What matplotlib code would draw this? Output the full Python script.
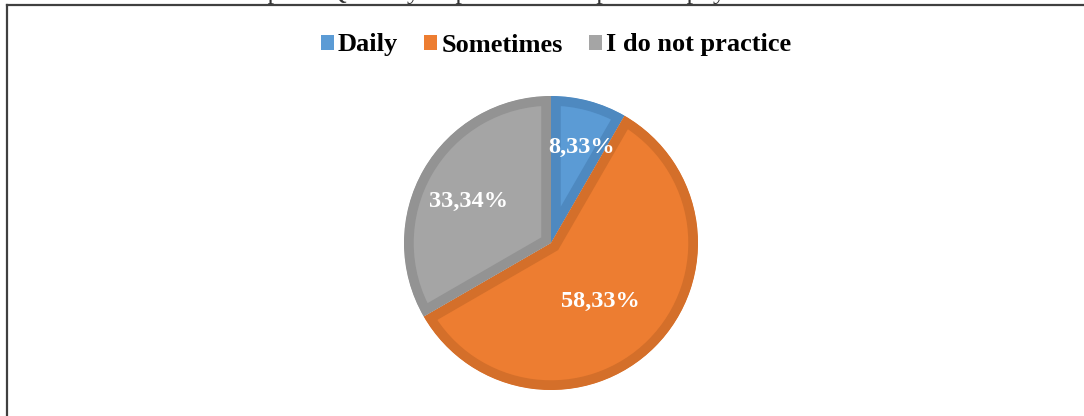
import matplotlib
matplotlib.use("Agg")
import numpy as np
from matplotlib import pyplot as plt
from matplotlib.lines import Line2D
from matplotlib.patches import Patch

categories = ['Daily', 'Sometimes', 'I do not practice']
values = [8.33, 58.33, 33.34]
value_labels = ['8,33%', '58,33%', '33,34%']
fill_colors = ['#5B9BD5', '#ED7D31', '#A5A5A5']
edge_colors = ['#4E89C0', '#D46F2A', '#939393']
label_dist = [0.68, 0.52, 0.63]
label_angle_shift = [-3, -5, 3]
title = 'Graph 3: Quantity of patients who practice physical activities'

W, H = 1084, 416
fig = plt.figure(figsize=(W / 100, H / 100), dpi=100)
fig.patch.set_facecolor('white')

# caption cut off at the very top, only descenders show
fig.text(552 / W, 1 + 1 / H, title, ha='center', va='baseline',
         fontsize=19, family='Liberation Serif', color='#333333')

# frame lines (top and left visible)
fig.add_artist(Line2D([7 / W, 1.0], [1 - 5 / H, 1 - 5 / H], transform=fig.transFigure,
                      color='#404040', linewidth=1.6))
fig.add_artist(Line2D([7 / W, 7 / W], [0.0, 1 - 5 / H], transform=fig.transFigure,
                      color='#404040', linewidth=1.6))

cx, cy, R = 551, 243, 147
ax = fig.add_axes([(cx - R) / W, (H - cy - R) / H, 2 * R / W, 2 * R / H])
wedges, _ = ax.pie(values, colors=fill_colors, startangle=90, counterclock=False, radius=1)
start = 90
for w, ec, v, lab, d, sh in zip(wedges, edge_colors, values, value_labels, label_dist, label_angle_shift):
    w.set_edgecolor(ec)
    w.set_linewidth(14)
    w.set_clip_on(True)
    w.set_clip_path(w)
    mid = start - v * 3.6 / 2 + sh
    start -= v * 3.6
    ax.text(d * np.cos(np.radians(mid)), d * np.sin(np.radians(mid)), lab,
            ha='center', va='center', color='white', fontsize=17.5,
            fontweight='bold', family='Liberation Serif')
ax.set_xlim(-1, 1)
ax.set_ylim(-1, 1)
ax.axis('off')

handles = [Patch(facecolor=c, edgecolor='none') for c in fill_colors]
fig.legend(handles, categories, loc='center', bbox_to_anchor=(556 / W, 1 - 45 / H),
           ncol=3, frameon=False, handlelength=0.5, handleheight=0.5,
           handletextpad=0.15, columnspacing=1.0,
           prop={'family': 'Liberation Serif', 'weight': 'bold', 'size': 19})

fig.savefig('out.png', dpi=100)
